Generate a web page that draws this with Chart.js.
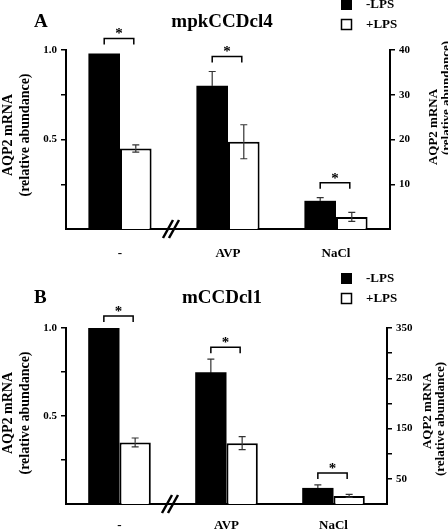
<!DOCTYPE html>
<html><head><meta charset="utf-8">
<script src="https://cdn.jsdelivr.net/npm/chart.js@4.4.1/dist/chart.umd.min.js"></script>
<style>
html,body{margin:0;padding:0;background:#fff;}
#wrap{position:relative;width:448px;height:532px;overflow:hidden;background:#fff;}
canvas{position:absolute;left:0;}
</style></head><body>
<div id="wrap">
<canvas id="cA" width="448" height="266" style="top:0px"></canvas>
<canvas id="cB" width="448" height="266" style="top:266px"></canvas>
</div>
<script>
// ---------- data ----------
const categories = ['-', 'AVP', 'NaCl'];
const seriesNames = ['-LPS', '+LPS'];
const categoryAxis = ['left', 'right', 'right'];
const significant = [true, true, true];

// Panel A : mpkCCDcl4
const titleA = 'mpkCCDcl4';
const minusLpsA = [0.98, 32.0, 6.3];
const minusLpsErrA = [0, 3.2, 0.7];
const plusLpsA = [0.45, 19.5, 2.7];
const plusLpsErrA = [0.02, 3.8, 1.0];
const leftTickLabelsA = ['0.5', '1.0'];
const rightTickLabelsA = ['10', '20', '30', '40'];

// Panel B : mCCDcl1
const titleB = 'mCCDcl1';
const minusLpsB = [1.0, 262, 32];
const minusLpsErrB = [0, 26, 6];
const plusLpsB = [0.35, 121, 16];
const plusLpsErrB = [0.025, 13, 3];
const leftTickLabelsB = ['0.5', '1.0'];
const rightTickLabelsB = ['50', '150', '250', '350'];

const axisTitle = ['AQP2 mRNA', '(relative abundance)'];

// ---------- drawing ----------
const FONT = '"Liberation Serif", "Times New Roman", serif';

const decor = {
  id: 'decor',
  afterDraw(chart, args, o) {
    const ctx = chart.ctx, ca = chart.chartArea;
    ctx.save();
    // error bars
    chart.data.datasets.forEach((ds, di) => {
      const meta = chart.getDatasetMeta(di);
      const ys = chart.scales[ds.yAxisID];
      ds.data.forEach((v, j) => {
        if (v === null) return;
        const e = ds.err[j];
        if (!e) return;
        const x = meta.data[j].x;
        const yt = ys.getPixelForValue(v + e), yb = ys.getPixelForValue(v - e), yv = ys.getPixelForValue(v);
        ctx.lineWidth = 1.2;
        ctx.strokeStyle = '#333';
        ctx.beginPath();
        ctx.moveTo(x, yt); ctx.lineTo(x, yv);
        ctx.moveTo(x - 3.5, yt); ctx.lineTo(x + 3.5, yt);
        ctx.stroke();
        ctx.strokeStyle = ds.errInner;
        ctx.beginPath();
        ctx.moveTo(x, yv); ctx.lineTo(x, yb);
        ctx.moveTo(x - 3.5, yb); ctx.lineTo(x + 3.5, yb);
        ctx.stroke();
      });
    });
    // significance brackets
    categories.forEach((c, j) => {
      if (!significant[j]) return;
      const xs = [], tops = [];
      chart.data.datasets.forEach((ds, di) => {
        const v = ds.data[j];
        if (v === null) return;
        const ys = chart.scales[ds.yAxisID];
        xs.push(chart.getDatasetMeta(di).data[j].x);
        tops.push(ys.getPixelForValue(v + (ds.err[j] || 0)));
      });
      const x1 = Math.min(...xs), x2 = Math.max(...xs) - 2;
      const yTop = Math.min(...tops) - o.bracketGap;
      ctx.strokeStyle = '#000'; ctx.lineWidth = 1.5;
      ctx.beginPath();
      ctx.moveTo(x1, yTop + 6); ctx.lineTo(x1, yTop); ctx.lineTo(x2, yTop); ctx.lineTo(x2, yTop + 6);
      ctx.stroke();
      ctx.fillStyle = '#000';
      ctx.font = 'bold 15px ' + FONT;
      ctx.textAlign = 'center'; ctx.textBaseline = 'middle';
      ctx.fillText('*', (x1 + x2) / 2, yTop - 4);
    });
    // axis break mark
    const cx = chart.scales.x.getPixelForValue(0.5) - 3, by = ca.bottom;
    ctx.strokeStyle = '#000'; ctx.lineWidth = 2.5;
    ctx.beginPath();
    ctx.moveTo(cx - 8, by + 9); ctx.lineTo(cx + 2, by - 9);
    ctx.moveTo(cx - 2, by + 9); ctx.lineTo(cx + 8, by - 9);
    ctx.stroke();
    // legend
    ctx.font = 'bold 13px ' + FONT;
    ctx.textAlign = 'left'; ctx.textBaseline = 'middle';
    seriesNames.forEach((n, i) => {
      const y = o.legendTop + i * 20;
      if (i === 0) { ctx.fillStyle = '#000'; ctx.fillRect(341, y, 11, 11); }
      else { ctx.fillStyle = '#fff'; ctx.fillRect(341, y, 11, 11); ctx.strokeStyle = '#000'; ctx.lineWidth = 1.5; ctx.strokeRect(341.5, y + 0.5, 10, 10); }
      ctx.fillStyle = '#000';
      ctx.fillText(n, 366, y + 6);
    });
    // titles
    ctx.font = 'bold 19px ' + FONT;
    ctx.textAlign = 'center';
    ctx.fillText(o.title, 222, o.titleY);
    ctx.textAlign = 'left';
    ctx.fillText(o.letter, 34, o.titleY);
    // axis titles
    const rot = (t, x, y, size) => {
      ctx.save();
      ctx.translate(x, y); ctx.rotate(-Math.PI / 2);
      ctx.font = 'bold ' + size + 'px ' + FONT;
      ctx.textAlign = 'center'; ctx.textBaseline = 'alphabetic';
      ctx.fillText(t, 0, 0);
      ctx.restore();
    };
    rot(axisTitle[0], 12, o.leftTitleY, 14);
    rot(axisTitle[1], 29, o.leftTitleY, 14);
    rot(axisTitle[0], o.rightX[0], o.rightY[0], 13);
    rot(axisTitle[1], o.rightX[1], o.rightY[1], 13);
    ctx.restore();
  }
};

function makePanel(id, p) {
  const pick = (arr, side) => arr.map((v, i) => categoryAxis[i] === side ? v : null);
  const barStyle = (k) => k === 0
    ? { backgroundColor: '#000', borderColor: '#000', borderWidth: 0, errInner: '#000' }
    : { backgroundColor: '#fff', borderColor: '#000', borderWidth: 2, errInner: '#333' };
  const datasets = [
    Object.assign({ label: seriesNames[0], data: pick(p.minus, 'left'), err: p.minusErr, yAxisID: 'y', stack: 's0' }, barStyle(0)),
    Object.assign({ label: seriesNames[1], data: pick(p.plus, 'left'), err: p.plusErr, yAxisID: 'y', stack: 's1' }, barStyle(1)),
    Object.assign({ label: seriesNames[0], data: pick(p.minus, 'right'), err: p.minusErr, yAxisID: 'y2', stack: 's2' }, barStyle(0)),
    Object.assign({ label: seriesNames[1], data: pick(p.plus, 'right'), err: p.plusErr, yAxisID: 'y2', stack: 's3' }, barStyle(1)),
  ];
  datasets.forEach(d => { d.skipNull = true; d.categoryPercentage = 0.585; d.barPercentage = 1.0; });
  const yCommon = (labels, fmt) => ({
    border: { display: true, color: '#000', width: 2 },
    grid: { drawOnChartArea: false, drawTicks: true, tickLength: 5, color: '#000', lineWidth: 1.5 },
    ticks: {
      color: '#000', padding: 4, font: { family: FONT, size: 11, weight: 'bold' },
      callback: (v) => labels.includes(fmt(v)) ? fmt(v) : ''
    },
    afterBuildTicks: (s) => { s.ticks = s.ticks.filter(t => t.value !== 0); }
  });
  const yL = Object.assign(yCommon(p.leftLabels, v => v.toFixed(1)), {
    position: 'left', min: 0, max: 1, afterFit: (s) => { s.width = 66; }
  });
  yL.ticks.stepSize = 0.25;
  const yR = Object.assign(yCommon(p.rightLabels, v => String(v)), {
    position: 'right', min: 0, max: p.rightMax, afterFit: (s) => { s.width = 448 - p.areaRight; }
  });
  yR.ticks.stepSize = p.rightStep;
  return new Chart(document.getElementById(id), {
    type: 'bar',
    data: { labels: categories, datasets },
    options: {
      responsive: false, animation: false, devicePixelRatio: 1,
      layout: { padding: { top: p.areaTop, left: 0, right: 0, bottom: 0 } },
      scales: {
        x: {
          offset: true,
          border: { display: true, color: '#000', width: 2 },
          grid: { display: false, drawTicks: false },
          ticks: { color: '#000', padding: p.xPad, font: { family: FONT, size: 13, weight: 'bold' } },
          afterFit: (s) => { s.height = 266 - p.areaBottom; }
        },
        y: yL,
        y2: yR
      },
      plugins: {
        legend: { display: false },
        tooltip: { enabled: false },
        decor: {
          title: p.title, letter: p.letter, titleY: p.titleY, legendTop: p.legendTop,
          bracketGap: p.bracketGap, leftTitleY: p.leftTitleY, rightX: p.rightX, rightY: p.rightY
        }
      }
    },
    plugins: [decor]
  });
}

makePanel('cA', {
  title: titleA, letter: 'A', minus: minusLpsA, minusErr: minusLpsErrA, plus: plusLpsA, plusErr: plusLpsErrA,
  leftLabels: leftTickLabelsA, rightLabels: rightTickLabelsA, rightMax: 40, rightStep: 10,
  areaTop: 50, areaBottom: 229, areaRight: 390, titleY: 22, legendTop: -1, bracketGap: 15, xPad: 17,
  leftTitleY: 135, rightX: [437, 450], rightY: [127, 98]
});
makePanel('cB', {
  title: titleB, letter: 'B', minus: minusLpsB, minusErr: minusLpsErrB, plus: plusLpsB, plusErr: plusLpsErrB,
  leftLabels: leftTickLabelsB, rightLabels: rightTickLabelsB, rightMax: 350, rightStep: 50,
  areaTop: 62, areaBottom: 238, areaRight: 387, titleY: 32, legendTop: 7, bracketGap: 12, xPad: 14,
  leftTitleY: 147, rightX: [431, 444], rightY: [145, 153]
});
</script>
</body></html>
